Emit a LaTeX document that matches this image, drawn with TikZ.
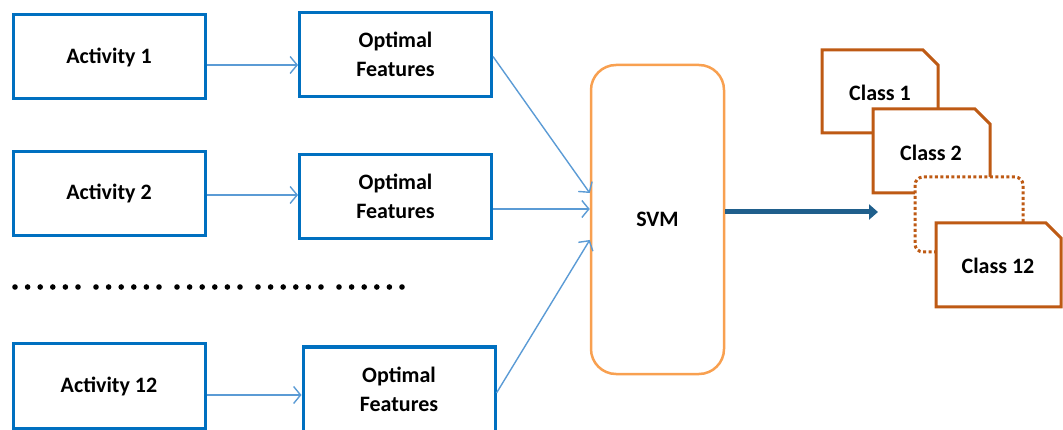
\documentclass[tikz,border=0pt]{standalone}
\usepackage{fontspec}
\setmainfont{Carlito}
\usetikzlibrary{arrows.meta}

\definecolor{boxblue}{RGB}{0,112,192}
\definecolor{arrowblue}{RGB}{91,155,213}
\definecolor{svmorange}{RGB}{248,160,80}
\definecolor{darkarrow}{RGB}{31,95,140}
\definecolor{classbrown}{RGB}{190,90,20}

\tikzset{
  labelfont/.style={font=\bfseries\fontsize{22}{29}\selectfont},
  actbox/.style={draw=boxblue, line width=3pt, fill=white, minimum width=192pt, minimum height=84pt, labelfont},
  featbox/.style={actbox, align=center},
  svmbox/.style={draw=svmorange, line width=2.5pt, rounded corners=25pt, minimum width=133pt, minimum height=309pt, labelfont},
  link/.style={draw=arrowblue, line width=1.4pt, -{Straight Barb[length=7pt,width=17pt]}},
  bigarrow/.style={draw=darkarrow, line width=5pt, -{Triangle[length=9pt,width=15pt]}},
  classbox/.style={draw=classbrown, line width=3pt, fill=white},
  classlabel/.style={labelfont}
}

\begin{document}
\begin{tikzpicture}[x=1pt,y=-1pt]
\useasboundingbox (0,0) rectangle (1063,430);

\node[actbox] (act1) at (109,57) {Activity 1};
\node[actbox] (act2) at (109,193.5) {Activity 2};
\node[actbox] (act12) at (109,386) {Activity 12};

\node[featbox] (feat1) at (395.5,54.5) {Optimal\\Features};
\node[featbox] (feat2) at (395.5,196.5) {Optimal\\Features};
\node[featbox] (feat12) at (399,389) {Optimal\\Features};

% dots between the rows
\foreach \g in {0,...,4}
  \foreach \d in {0,...,5}
    \fill[black] (15+81*\g+12.6*\d,287) circle (2.8pt);

\node[svmbox] (svm) at (657.5,219.5) {SVM};

\draw[link] ([yshift=-8pt]act1.east) -- ([yshift=-8pt]act1.east -| feat1.west);
\draw[link] ([yshift=-1.5pt]act2.east) -- ([yshift=-1.5pt]act2.east -| feat2.west);
\draw[link] ([yshift=-9pt]act12.east) -- ([yshift=-9pt]act12.east -| feat12.west);

\draw[link] ([yshift=-2pt]feat1.east) -- ([yshift=26.5pt]svm.west);
\draw[link] ([yshift=-12.5pt]feat2.east) -- ([yshift=10.5pt]svm.west);
\draw[link] ([yshift=-4pt]feat12.east) -- ([yshift=-20.5pt]svm.west);

\coordinate (classes) at (878,212);
\draw[bigarrow] ([yshift=7.5pt]svm.east) -- (classes);

% class cards
\filldraw[classbox] (822,50) -- (923,50) -- (938,65) -- (938,133) -- (822,133) -- cycle;
\node[classlabel] (class1) at (880,93) {Class 1};
\filldraw[classbox] (873,109) -- (975,109) -- (990,124) -- (990,193) -- (873,193) -- cycle;
\node[classlabel] (class2) at (931,153) {Class 2};
\filldraw[classbox, dash pattern=on 3pt off 2.5pt, rounded corners=8pt] (915,177) rectangle (1023,252);
\filldraw[classbox] (936,223) -- (1046,223) -- (1061,238) -- (1061,307) -- (936,307) -- cycle;
\node[classlabel] (class12) at (998,266) {Class 12};
\end{tikzpicture}
\end{document}
